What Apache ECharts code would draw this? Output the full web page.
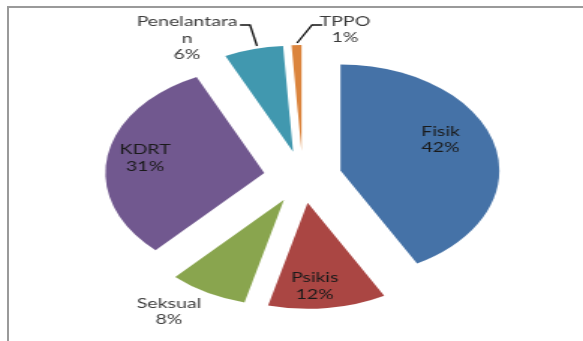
<!DOCTYPE html>
<html>
<head>
<meta charset="utf-8">
<script src="https://cdn.jsdelivr.net/npm/echarts@6/dist/echarts.min.js"></script>
<style>
  html, body { margin: 0; padding: 0; background: #fff; overflow: hidden; }
  #wrap { position: relative; width: 583px; height: 341px; overflow: hidden; }
  #frame { position: absolute; left: 7px; top: 6px; right: -10px; bottom: -10px;
           border-top: 2px solid #9a9a9a; border-left: 2px solid #9a9a9a; }
  /* the pie is drawn in a narrower box and widened, giving the oval shape */
  #chart { position: absolute; left: 0; top: 0; width: 389px; height: 341px;
           transform: scaleX(1.4987); transform-origin: 0 0; }
</style>
</head>
<body>
<div id="wrap"><div id="frame"></div><div id="chart"></div></div>
<script>
// Jenis kasus (persen)
const categories = ['Fisik', 'Psikis', 'Seksual', 'KDRT', 'Penelantaran', 'TPPO'];
const shares = [42, 12, 8, 31, 6, 1];

const colors = ['#4572A7', '#AA4643', '#89A54E', '#71588F', '#4198AF', '#DB843D'];
const labelInside = [true, true, false, true, false, false];
// label centres, in the un-widened drawing box
const labelSpots = [[294, 140], [210, 286.5], [112.8, 312], [96.8, 158.5], [124.8, 38.5], [230.2, 30]];
// leader lines for the two thin slices at the top
const leaderLines = [
  [[160.1, 25], [166.8, 25], [171.5, 46]],
  [[214.9, 25], [208.2, 25], [198.2, 43]]
];
const wrapAt = 11;

function labelText(i) {
  let name = categories[i];
  if (name.length > wrapAt) name = name.slice(0, wrapAt) + '\n' + name.slice(wrapAt);
  return name + '\n' + shares[i] + '%';
}

const chart = echarts.init(document.getElementById('chart'), null, { renderer: 'canvas' });

const data = categories.map((name, i) => ({
  name: name,
  value: shares[i],
  selected: true,
  itemStyle: { color: colors[i] },
  select: { itemStyle: { color: colors[i] } }
}));

const texts = categories.map((name, i) => ({
  type: 'text',
  x: labelSpots[i][0],
  y: labelSpots[i][1],
  z: 10,
  silent: true,
  style: {
    text: labelText(i),
    fontFamily: 'Lato',
    fontSize: 13,
    lineHeight: 16.5,
    fill: labelInside[i] ? '#1a1a1a' : '#3c3c3c',
    align: 'center',
    verticalAlign: 'middle'
  }
}));

const lines = leaderLines.map(pts => ({
  type: 'polyline',
  z: 10,
  silent: true,
  shape: { points: pts },
  style: { stroke: '#111', lineWidth: 1.3, fill: null }
}));

chart.setOption({
  animation: false,
  graphic: texts.concat(lines),
  series: [{
    type: 'pie',
    center: [202, 177],
    radius: 106,
    startAngle: 90,
    clockwise: true,
    selectedMode: 'multiple',
    selectedOffset: 26,
    emphasis: { disabled: true },
    label: { show: false },
    labelLine: { show: false },
    data: data
  }]
});
</script>
</body>
</html>
